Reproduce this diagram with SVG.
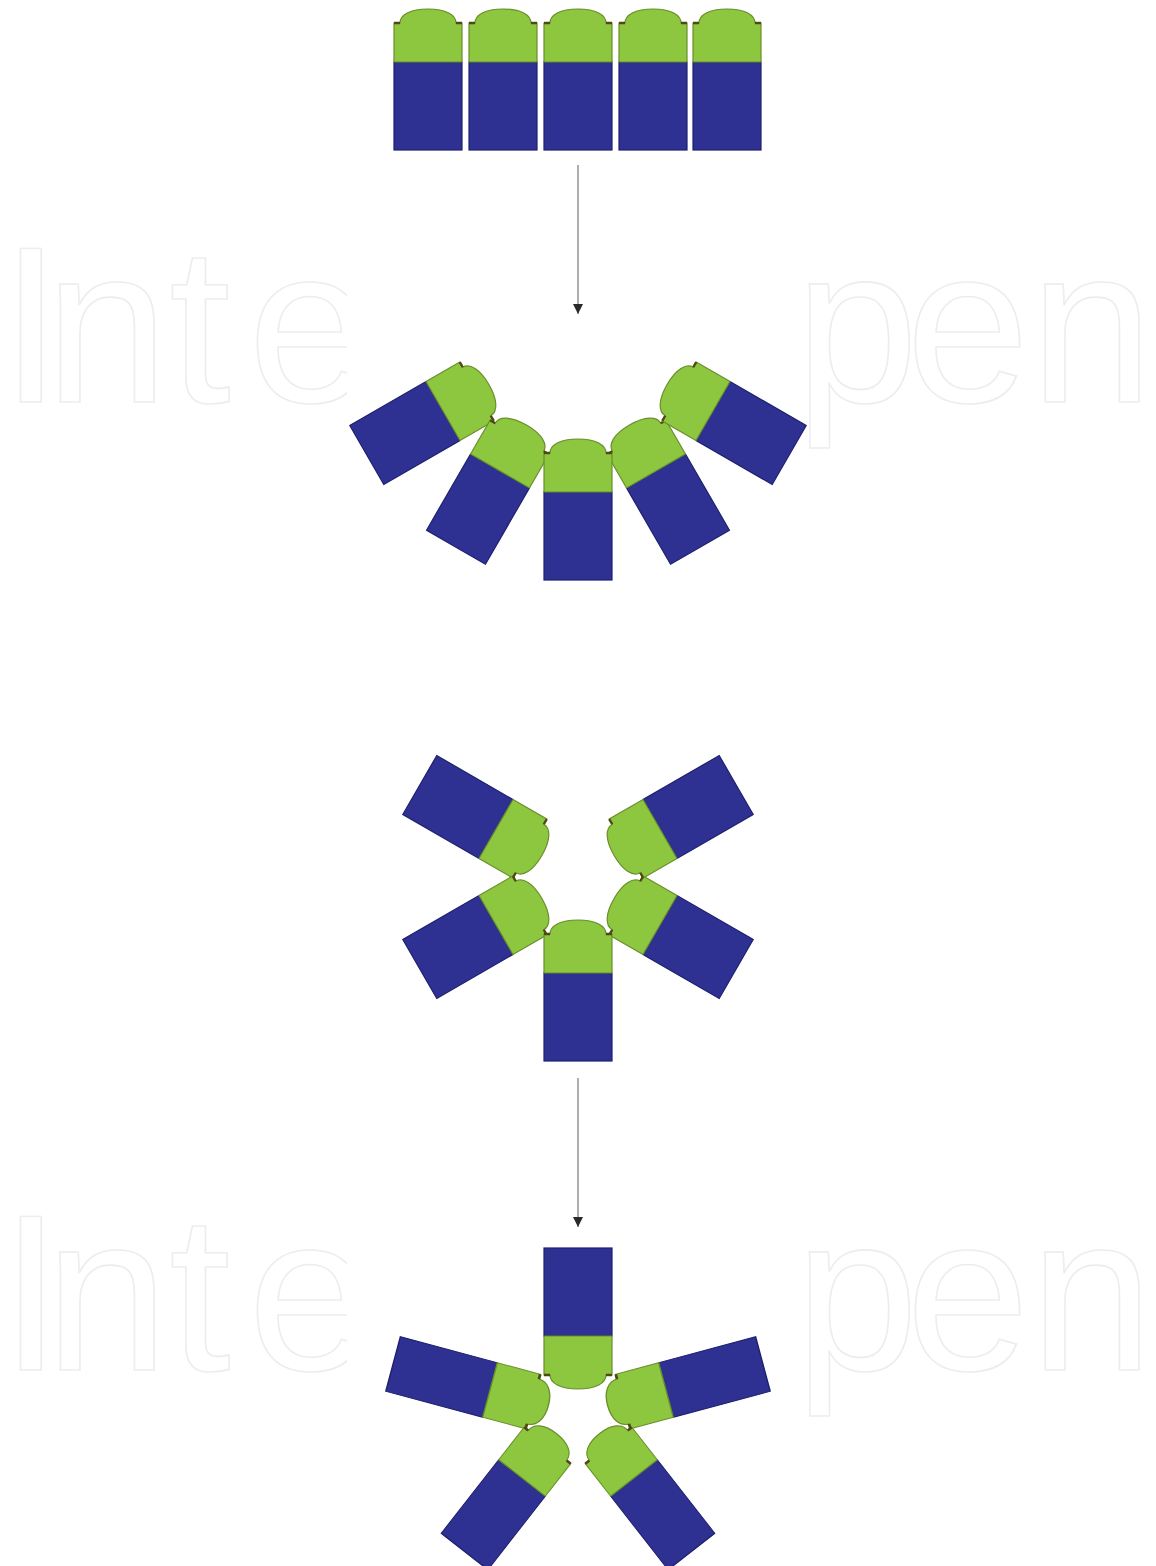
<svg xmlns="http://www.w3.org/2000/svg" xmlns:xlink="http://www.w3.org/1999/xlink" width="1156" height="1566" viewBox="0 0 1156 1566">
  <style>
    .wm { font-family: "Liberation Sans", Arial, sans-serif; font-size: 222px; fill: none; stroke: #ededed; stroke-width: 1.6; }
    .blue { fill: #2e3192; stroke: #1d206e; stroke-width: 1.2; }
    .green { fill: #8dc63f; stroke: #6a8f2a; stroke-width: 1.2; }
    .hinge { fill: none; stroke: #4f4a14; stroke-width: 2.4; }
    .conn { stroke: #9a9a9a; stroke-width: 1.6; fill: none; }
  </style>
  <defs>
    <marker id="ah" markerWidth="10" markerHeight="10" refX="10" refY="5" orient="auto" markerUnits="userSpaceOnUse">
      <path d="M0,0 L10,5 L0,10 Z" fill="#2a2a2a"/>
    </marker>
    <g id="block">
      <rect class="blue" x="-34" y="0" width="68" height="88"/>
      <path class="green" d="M-34,0 V-39 H-28 C-28,-47 -18,-53 0,-53 C18,-53 28,-47 28,-39 H34 V0 Z"/>
      <path class="hinge" d="M-34,-39 H-28 M28,-39 H34"/>
    </g>
  </defs>

  <rect x="0" y="0" width="1156" height="1566" fill="#ffffff"/>

  <!-- watermark -->
  <g id="watermark">
    <text class="wm" x="0 45 169 248" y="402">Inte</text>
    <text class="wm" x="795 906 1030" y="402">pen</text>
    <text class="wm" x="0 45 169 248" y="1370">Inte</text>
    <text class="wm" x="795 906 1030" y="1370">pen</text>
    <rect x="347" y="0" width="458" height="1566" fill="#ffffff"/>
  </g>

  <!-- stage 1 -->
  <g id="stage1">
    <g id="s1-b1"><use xlink:href="#block" transform="translate(428,62)"/></g>
    <g id="s1-b2"><use xlink:href="#block" transform="translate(503,62)"/></g>
    <g id="s1-b3"><use xlink:href="#block" transform="translate(578,62)"/></g>
    <g id="s1-b4"><use xlink:href="#block" transform="translate(653,62)"/></g>
    <g id="s1-b5"><use xlink:href="#block" transform="translate(727,62)"/></g>
  </g>

  <!-- stage 2 -->
  <g id="stage2">
    <g id="s2-b1"><use xlink:href="#block" transform="translate(443,411) rotate(60)"/></g>
    <g id="s2-b2"><use xlink:href="#block" transform="translate(500,471) rotate(30)"/></g>
    <g id="s2-b4"><use xlink:href="#block" transform="translate(656,471) rotate(-30)"/></g>
    <g id="s2-b5"><use xlink:href="#block" transform="translate(713,411) rotate(-60)"/></g>
    <g id="s2-b3"><use xlink:href="#block" transform="translate(578,492)"/></g>
  </g>

  <!-- stage 3 -->
  <g id="stage3">
    <g id="s3-b1"><use xlink:href="#block" transform="translate(496,829) rotate(120)"/></g>
    <g id="s3-b2"><use xlink:href="#block" transform="translate(496,925) rotate(60)"/></g>
    <g id="s3-b4"><use xlink:href="#block" transform="translate(660,925) rotate(-60)"/></g>
    <g id="s3-b5"><use xlink:href="#block" transform="translate(660,829) rotate(-120)"/></g>
    <g id="s3-b3"><use xlink:href="#block" transform="translate(578,973)"/></g>
  </g>

  <!-- stage 4 -->
  <g id="stage4">
    <g id="s4-b1"><use xlink:href="#block" transform="translate(578,1336) rotate(180)"/></g>
    <g id="s4-b2"><use xlink:href="#block" transform="translate(490,1390) rotate(105) scale(0.83,1.14)"/></g>
    <g id="s4-b5"><use xlink:href="#block" transform="translate(666,1390) rotate(-105) scale(0.83,1.14)"/></g>
    <g id="s4-b3"><use xlink:href="#block" transform="translate(522,1478) rotate(38) scale(0.87,1.06)"/></g>
    <g id="s4-b4"><use xlink:href="#block" transform="translate(634,1478) rotate(-38) scale(0.87,1.06)"/></g>
  </g>

  <!-- connectors -->
  <g id="connectors">
    <line class="conn" x1="578" y1="165" x2="578" y2="314" marker-end="url(#ah)"/>
    <line class="conn" x1="578" y1="1078" x2="578" y2="1227" marker-end="url(#ah)"/>
  </g>
</svg>
